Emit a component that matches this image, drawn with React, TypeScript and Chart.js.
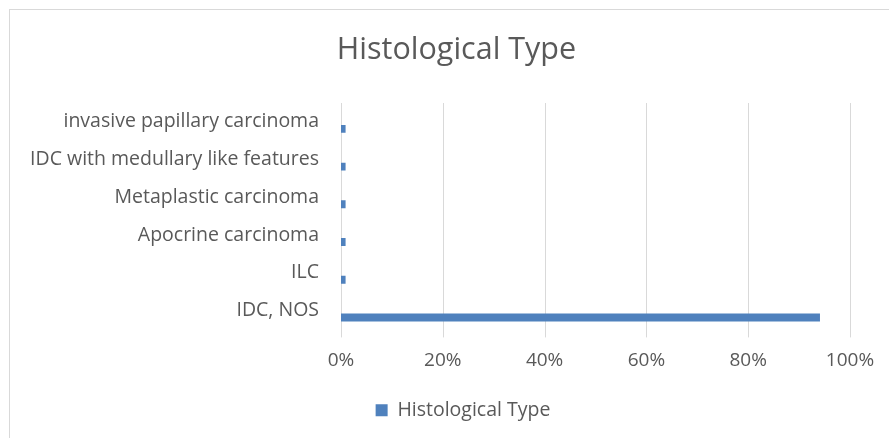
import React, { useEffect, useRef } from "react";
import { Chart, registerables } from "chart.js";

Chart.register(...registerables);

const categories = [
  "invasive papillary carcinoma",
  "IDC with medullary like features",
  "Metaplastic carcinoma",
  "Apocrine carcinoma",
  "ILC",
  "IDC, NOS",
];
const values = [0.9, 0.9, 0.9, 0.9, 0.9, 94.1];
const xTicks = [0, 20, 40, 60, 80, 100];
const seriesName = "Histological Type";
const titleText = "Histological Type";

const FONT = "'Open Sans', sans-serif";
const TEXT = "#595959";
const GRID = "#d9d9d9";

const framePlugin = {
  id: "frame",
  afterLayout(chart: any) {
    if (chart.titleBlock) chart.titleBlock.left = 63;
    if (chart.legend) {
      chart.legend.left = 76;
      chart.legend.top -= 2;
      chart.legend.bottom -= 2;
    }
  },
  beforeDraw(chart: any) {
    const { ctx, width, height } = chart;
    ctx.save();
    ctx.fillStyle = "#ffffff";
    ctx.fillRect(0, 0, width, height);
    ctx.strokeStyle = GRID;
    ctx.lineWidth = 1;
    ctx.strokeRect(9.5, 9.5, width + 20, height + 20);
    ctx.restore();
  },
  beforeDatasetsDraw(chart: any) {
    const { ctx, chartArea } = chart;
    const xs = chart.scales.x;
    ctx.save();
    ctx.strokeStyle = GRID;
    ctx.lineWidth = 1;
    xTicks.forEach((t) => {
      const px = Math.round(xs.getPixelForValue(t)) + 0.5;
      ctx.beginPath();
      ctx.moveTo(px, chartArea.top - 7);
      ctx.lineTo(px, chartArea.bottom + 1);
      ctx.stroke();
    });
    ctx.restore();
  },
};

export default function App() {
  const ref = useRef<HTMLCanvasElement>(null);
  useEffect(() => {
    document.body.style.margin = "0";
    const chart = new Chart(ref.current!, {
      type: "bar",
      data: {
        labels: categories,
        datasets: [
          {
            label: seriesName,
            data: values,
            backgroundColor: "#4F81BD",
            borderWidth: 0,
            barPercentage: 0.21,
            categoryPercentage: 1,
          },
        ],
      },
      options: {
        indexAxis: "y",
        animation: false,
        responsive: false,
        layout: { padding: { left: 0, right: 39, top: 0, bottom: 6.1 } },
        plugins: {
          title: {
            display: true,
            text: titleText,
            color: TEXT,
            font: { family: FONT, size: 30.5, weight: "normal" },
            padding: { top: 31.7, bottom: 41.7 },
          },
          legend: {
            display: true,
            position: "bottom",
            labels: {
              color: TEXT,
              font: { family: FONT, size: 19.5 },
              boxWidth: 12,
              boxHeight: 12,
              padding: 12,
            },
          },
          tooltip: { enabled: false },
        },
        scales: {
          x: {
            min: 0,
            max: 100,
            afterBuildTicks: (s: any) => {
              s.ticks = xTicks.map((v) => ({ value: v }));
            },
            afterFit: (s: any) => {
              s.height = 54;
            },
            grid: { display: false, drawTicks: false },
            border: { display: false },
            ticks: {
              color: TEXT,
              font: { family: FONT, size: 19 },
              padding: 13,
              maxRotation: 0,
              callback: (v: any) => v + "%",
            },
          },
          y: {
            afterFit: (s: any) => {
              s.width = 341;
            },
            grid: { display: false, drawTicks: false },
            border: { display: false },
            ticks: {
              color: TEXT,
              font: { family: FONT, size: 19.5 },
              padding: 22,
              labelOffset: -7,
              autoSkip: false,
            },
          },
        },
      },
      plugins: [framePlugin],
    } as any);
    return () => chart.destroy();
  }, []);
  return <canvas ref={ref} width={889} height={438} style={{ display: "block" }} />;
}
